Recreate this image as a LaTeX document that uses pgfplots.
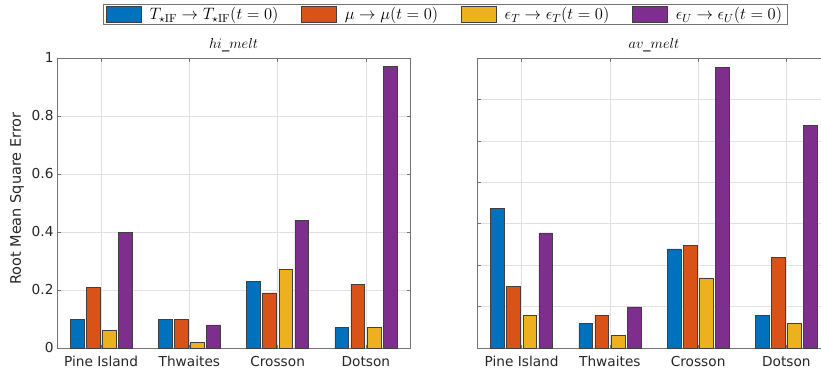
\RequirePackage{fix-cm}
\documentclass[border=0pt]{standalone}
\usepackage[no-math]{fontspec}
\setmainfont{DejaVu Sans}
\usepackage{pgfplots}
\usepackage{pgfplotstable}
\pgfplotsset{compat=1.18}

\definecolor{mblue}{rgb}{0,0.447,0.741}
\definecolor{morange}{rgb}{0.85,0.325,0.098}
\definecolor{myellow}{rgb}{0.929,0.694,0.125}
\definecolor{mpurple}{rgb}{0.494,0.184,0.556}

\pgfplotstableread{
x a b c d
1 0.10 0.21 0.06 0.40
2 0.10 0.10 0.02 0.08
3 0.23 0.19 0.27 0.44
4 0.07 0.22 0.07 0.97
}\himelt

\pgfplotstableread{
x a b c d
1 0.337 0.149 0.078 0.278
2 0.059 0.078 0.030 0.099
3 0.239 0.248 0.169 0.678
4 0.078 0.218 0.059 0.537
}\avmelt

\pgfplotsset{
  mypanel/.style={
    scale only axis, width=353bp, height=290bp,
    xmin=0.5, xmax=4.5, ymin=0,
    xtick={1,2,3,4},
    xticklabels={Pine Island,Thwaites,Crosson,Dotson},
    xmajorgrids, ymajorgrids,
    grid style={black!12, line width=0.5bp},
    axis line style={black!55, line width=0.6bp},
    tick style={black!55, line width=0.6bp},
    tick align=inside, major tick length=3.5bp,
    /pgf/number format/assume math mode=true,
    tick label style={font=\fontsize{13.7bp}{16bp}\selectfont, text=black!85},
    xticklabel style={anchor=base, yshift=-18.7bp},
    title style={font=\fontsize{14.5bp}{16bp}\selectfont, at={(axis description cs:0.5,1.012)}, anchor=base},
  },
  mybar/.style={ybar, bar width=13.7bp, bar shift=#1, draw=black!75, line width=0.5bp,
    legend image code/.code={\draw[##1] (0bp,-8bp) rectangle (35bp,8bp);}},
}

\begin{document}
\begin{tikzpicture}
\begin{axis}[mypanel, at={(57bp,-348bp)}, anchor=south west,
  ymax=1, ytick={0,0.2,0.4,0.6,0.8,1},
  title={$hi\_melt$},
  ylabel={Root Mean Square Error},
  every axis y label/.style={at={(axis description cs:-0.1133,0.515)}, rotate=90, anchor=center, font=\fontsize{14.5bp}{16bp}\selectfont, text=black!85},
  legend columns=4,
  legend style={at={(axis description cs:1.1009,1.15)}, anchor=center,
    draw=black!55, line width=0.6bp, fill=white, inner xsep=2bp, inner ysep=1bp,
    font=\fontsize{16.5bp}{18bp}\selectfont,
    nodes={inner xsep=3.5bp, inner ysep=2bp},
    /tikz/every odd column/.append style={column sep=5bp},
    /tikz/every even column/.append style={column sep=19bp}},
]
\addplot[mybar=-24.2bp, fill=mblue] table[x=x,y=a] {\himelt};
\addlegendentry{$T_{\star\mathrm{IF}} \rightarrow T_{\star\mathrm{IF}}(t=0)$}
\addplot[mybar=-8.07bp, fill=morange] table[x=x,y=b] {\himelt};
\addlegendentry{$\mu \rightarrow \mu(t=0)$}
\addplot[mybar=8.07bp, fill=myellow] table[x=x,y=c] {\himelt};
\addlegendentry{$\epsilon_T \rightarrow \epsilon_T(t=0)$}
\addplot[mybar=24.2bp, fill=mpurple] table[x=x,y=d] {\himelt};
\addlegendentry{$\epsilon_U \rightarrow \epsilon_U(t=0)$}
\end{axis}

\begin{axis}[mypanel, at={(477.5bp,-348bp)}, anchor=south west,
  ymax=0.7, ytick={0,0.1,0.2,0.3,0.4,0.5,0.6,0.7}, yticklabels={},
  title={$av\_melt$},
]
\addplot[mybar=-24.2bp, fill=mblue] table[x=x,y=a] {\avmelt};
\addplot[mybar=-8.07bp, fill=morange] table[x=x,y=b] {\avmelt};
\addplot[mybar=8.07bp, fill=myellow] table[x=x,y=c] {\avmelt};
\addplot[mybar=24.2bp, fill=mpurple] table[x=x,y=d] {\avmelt};
\end{axis}
\pgfresetboundingbox
\useasboundingbox (0bp,0bp) rectangle (821bp,-371bp);
\end{tikzpicture}
\end{document}
